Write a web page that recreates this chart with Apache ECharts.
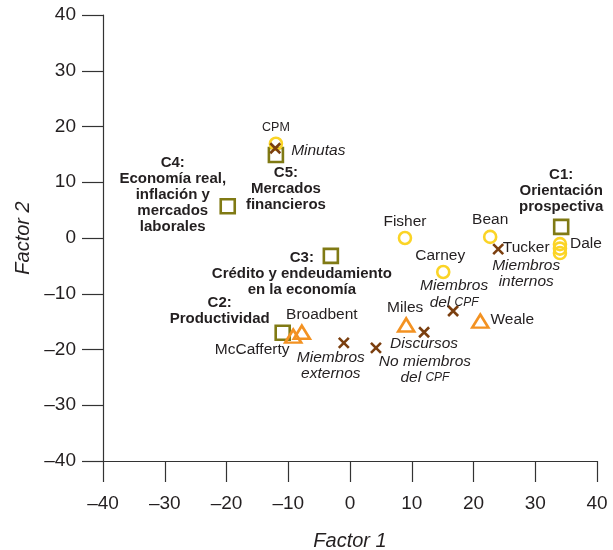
<!DOCTYPE html>
<html>
<head>
<meta charset="utf-8">
<script src="https://cdn.jsdelivr.net/npm/echarts@6/dist/echarts.min.js"></script>
<style>html,body{margin:0;padding:0;background:#fff}#c{width:613px;height:550px}</style>
</head>
<body>
<div id="c"></div>
<script>
// ---- Data ----
const ticks = [-40, -30, -20, -10, 0, 10, 20, 30, 40];

const circleLabels = ['CPM', 'Fisher', 'Carney', 'Bean', 'Dale', '', ''];
const circleX = [-12.0, 8.9, 15.1, 22.7, 34.0, 34.0, 34.0];
const circleY = [16.9, 0.0, -6.1, 0.2, -1.1, -1.9, -2.7];

const squareLabels = ['C1:\nOrientación\nprospectiva', 'C2:\nProductividad',
  'C3:\nCrédito y endeudamiento\nen la economía',
  'C4:\nEconomía real,\ninflación y\nmercados\nlaborales', 'C5:\nMercados\nfinancieros'];
const squareX = [34.2, -10.9, -3.1, -19.8, -12.0];
const squareY = [2.0, -17.0, -3.2, 5.7, 14.9];

const triangleLabels = ['Broadbent', 'McCafferty', 'Miles', 'Weale'];
const triangleX = [-7.8, -9.2, 9.1, 21.1];
const triangleY = [-16.9, -17.6, -15.6, -14.9];

const crossLabels = ['Minutas', 'Tucker\nMiembros\ninternos', 'Miembros\ndel CPF', 'Discursos',
  'Miembros\nexternos', 'No miembros\ndel CPF'];
const crossX = [-12.1, 24.0, 16.7, 12.0, -1.0, 4.2];
const crossY = [16.1, -2.0, -13.1, -16.9, -18.8, -19.7];

// ---- Label placement (style) ----
const circleOffsets = [[0, -16], [0, -16], [-3, -16], [0, -17], [26, 0], null, null];
const squareOffsets = [[0, -36], [-63, -22], [-29, 18.5], [-55, -11], [10, 34]];
const triangleOffsets = [[20, -17], [-41, 14], [-1, -17], [32, -1]];
const crossOffsets = [[43, 2], [28, 15], [1, -17], [0, 11], [-13, 23], [49, 22]];

const TEXT = '#231f20';
const FONT = '"Liberation Sans", Arial, Helvetica, sans-serif';

const rich = {
  n: {fontFamily: FONT, fontSize: 15.5, color: TEXT, lineHeight: 19},
  i: {fontFamily: FONT, fontSize: 15.5, fontStyle: 'italic', color: TEXT, lineHeight: 16.5},
  s: {fontFamily: FONT, fontSize: 12, fontStyle: 'italic', color: TEXT, lineHeight: 16.5},
  b: {fontFamily: FONT, fontSize: 15, fontWeight: 'bold', color: TEXT, lineHeight: 16},
  c: {fontFamily: FONT, fontSize: 12.5, color: TEXT, lineHeight: 14}
};

function fmtPlain(t) { return '{n|' + t + '}'; }
function fmtSmall(t) { return '{c|' + t + '}'; }
function fmtBold(t) { return t.split('\n').map(l => '{b|' + l + '}').join('\n'); }
function fmtCross(t) {
  return t.split('\n').map(l => {
    if (l === 'Tucker') return '{n|' + l + '}';
    const k = l.indexOf('CPF');
    if (k >= 0) return '{i|' + l.slice(0, k) + '}{s|CPF}';
    return '{i|' + l + '}';
  }).join('\n');
}

function items(xs, ys, labels, offsets, fmt) {
  return xs.map((x, i) => ({
    value: [x, ys[i]],
    label: labels[i] ? {
      show: true, position: 'inside', offset: offsets[i],
      align: 'center', verticalAlign: 'middle',
      formatter: fmt(labels[i], i), rich: rich,
      color: TEXT, textBorderWidth: 0, opacity: 1
    } : {show: false}
  }));
}

const chart = echarts.init(document.getElementById('c'), null, {renderer: 'canvas'});

const axisCommon = {
  type: 'value', min: -40, max: 40, interval: 10,
  axisLine: {show: true, onZero: false, lineStyle: {color: '#333', width: 1.2}},
  axisTick: {show: true, inside: false, length: 21, lineStyle: {color: '#333', width: 1.2}},
  splitLine: {show: false},
  axisLabel: {
    color: TEXT, fontFamily: FONT, fontSize: 19,
    formatter: v => (v < 0 ? '\u2013' + Math.abs(v) : String(v))
  },
  nameLocation: 'middle',
  nameTextStyle: {color: TEXT, fontFamily: FONT, fontSize: 20, fontStyle: 'italic'}
};

const mk = {opacity: 1, color: 'rgba(0,0,0,0)', borderWidth: 2.6};

chart.setOption({
  animation: false,
  backgroundColor: '#fff',
  grid: {left: 103, right: 16, top: 15, bottom: 89, containLabel: false, outerBoundsMode: 'none'},
  xAxis: Object.assign({}, axisCommon, {
    name: 'Factor 1', nameGap: 70,
    axisLabel: Object.assign({}, axisCommon.axisLabel, {margin: 33})
  }),
  yAxis: Object.assign({}, axisCommon, {
    name: 'Factor 2', nameGap: 62,
    axisLabel: Object.assign({}, axisCommon.axisLabel, {margin: 27})
  }),
  series: [
    {
      type: 'scatter', name: 'squares', symbol: 'rect', symbolSize: 14,
      itemStyle: Object.assign({}, mk, {borderColor: '#807a14'}),
      data: items(squareX, squareY, squareLabels, squareOffsets, fmtBold)
    },
    {
      type: 'scatter', name: 'triangles', symbol: 'triangle', symbolSize: [16, 13],
      itemStyle: Object.assign({}, mk, {borderColor: '#f39222'}),
      data: items(triangleX, triangleY, triangleLabels, triangleOffsets, fmtPlain)
    },
    {
      type: 'scatter', name: 'circles', symbol: 'circle', symbolSize: 12,
      itemStyle: Object.assign({}, mk, {borderColor: '#fbd426'}),
      data: items(circleX, circleY, circleLabels, circleOffsets,
        (t, i) => i === 0 ? fmtSmall(t) : fmtPlain(t))
    },
    {
      type: 'scatter', name: 'crosses', symbol: 'path://M0,0L10,10M0,10L10,0', symbolSize: 10,
      itemStyle: Object.assign({}, mk, {borderColor: '#7b3f0f'}),
      data: items(crossX, crossY, crossLabels, crossOffsets, fmtCross)
    }
  ]
});
</script>
</body>
</html>
